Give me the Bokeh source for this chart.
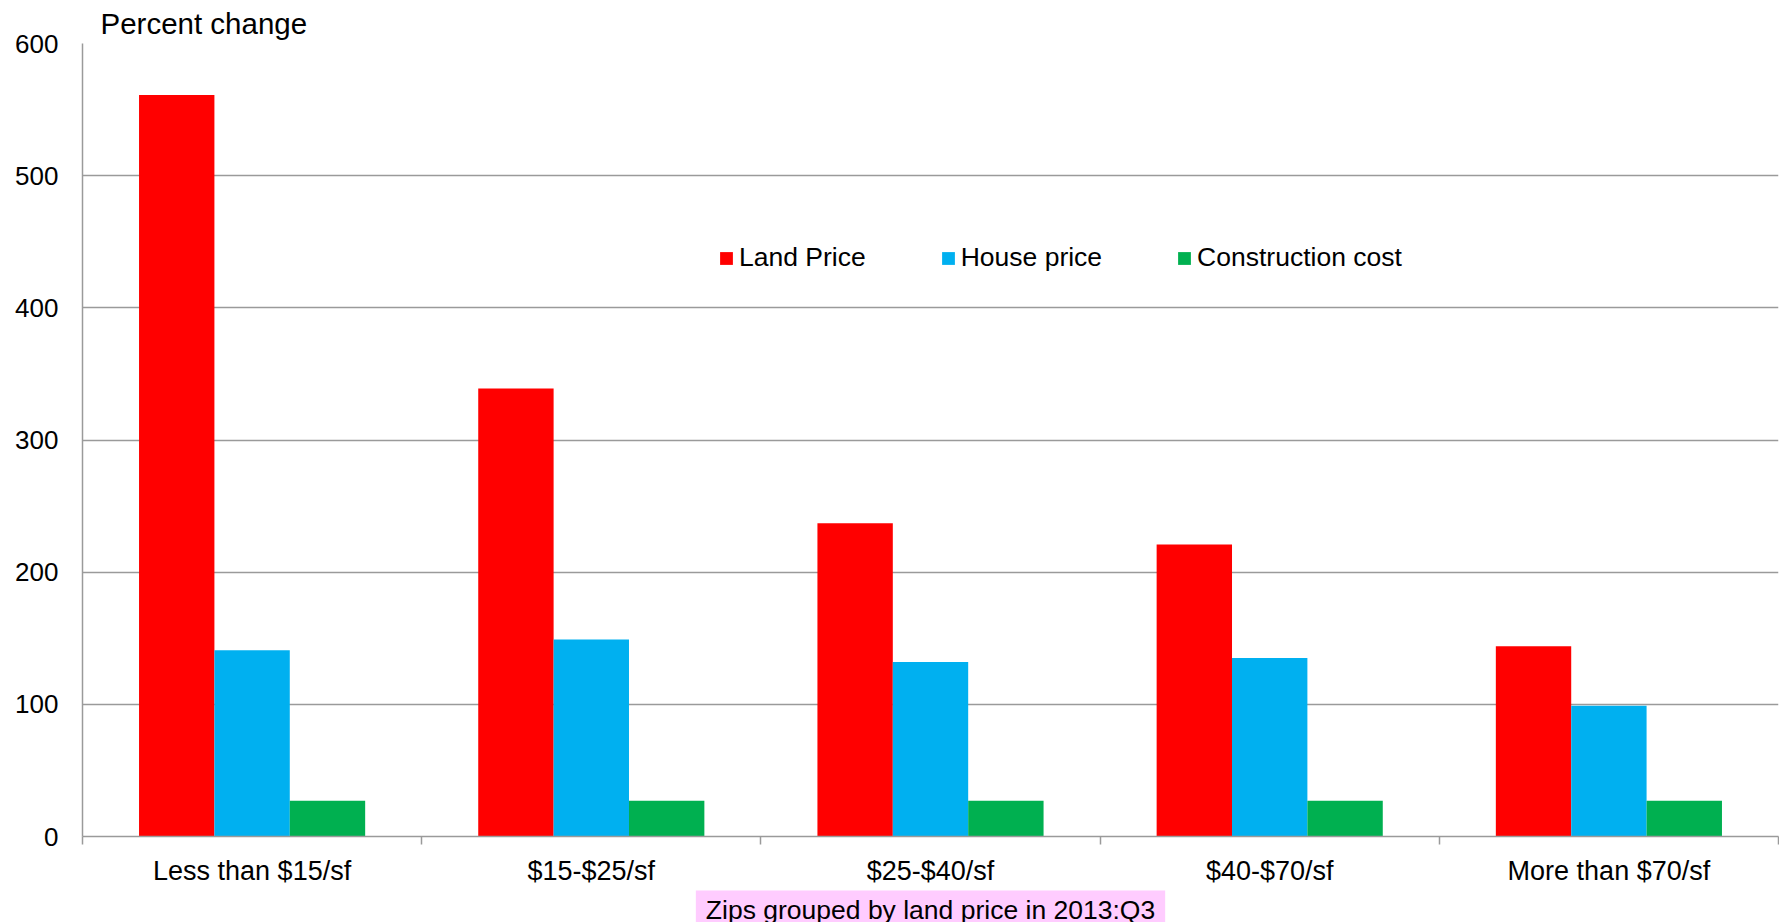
from bokeh.plotting import figure
from bokeh.models import Range1d, FixedTicker, Legend, LegendItem, Title
from bokeh.embed import file_html
from bokeh.resources import INLINE

categories = ["Less than $15/sf", "$15-$25/sf", "$25-$40/sf", "$40-$70/sf", "More than $70/sf"]
land_price = [561, 339, 237, 221, 144]
house_price = [141, 149, 132, 135, 99]
construction_cost = [27, 27, 27, 27, 27]
series_names = ["Land Price", "House price", "Construction cost"]
series_values = [land_price, house_price, construction_cost]
series_colors = ["#FF0000", "#00B0F0", "#00B050"]
y_ticks = [0, 100, 200, 300, 400, 500, 600]
y_label = "Percent change"
x_note = "Zips grouped by land price in 2013:Q3"

FONT = "Liberation Sans"
GRAY = "#9A9A9A"

n = len(categories)
p = figure(frame_width=1696, frame_height=793, output_backend="svg", toolbar_location=None,
           x_range=Range1d(0, n), y_range=Range1d(y_ticks[0], y_ticks[-1]),
           min_border_left=82, min_border_right=1, min_border_top=43, min_border_bottom=0)
p.outline_line_color = None
p.background_fill_color = "white"
p.border_fill_color = "white"

bw = 1.0 / (len(series_names) + 1.5)
renderers = []
for k, (name, vals, col) in enumerate(zip(series_names, series_values, series_colors)):
    off = (k - (len(series_names) - 1) / 2) * bw
    xs = [i + 0.5 + off for i in range(n)]
    r = p.vbar(x=xs, top=vals, bottom=0, width=bw, fill_color=col, line_color=None)
    renderers.append(r)

# axes
centers = [i + 0.5 for i in range(n)]
p.xaxis.ticker = FixedTicker(ticks=centers, minor_ticks=list(range(n + 1)))
p.xaxis.major_label_overrides = {c: lab for c, lab in zip(centers, categories)}
p.xaxis.major_tick_out = 0
p.xaxis.major_tick_in = 0
p.xaxis.minor_tick_out = 8
p.xaxis.minor_tick_in = 0
p.xaxis.minor_tick_line_color = GRAY
p.xaxis.minor_tick_line_width = 1.5
p.xaxis.axis_line_color = GRAY
p.xaxis.axis_line_width = 1.5
p.xaxis.major_label_standoff = 11
p.xaxis.major_label_text_font = FONT
p.xaxis.major_label_text_font_size = "27px"
p.xaxis.major_label_text_color = "black"

p.yaxis.ticker = FixedTicker(ticks=y_ticks, minor_ticks=[])
p.yaxis.major_tick_out = 0
p.yaxis.major_tick_in = 0
p.yaxis.minor_tick_out = 0
p.yaxis.minor_tick_in = 0
p.yaxis.axis_line_color = GRAY
p.yaxis.axis_line_width = 1.5
p.yaxis.major_label_standoff = 24
p.yaxis.major_label_text_font = FONT
p.yaxis.major_label_text_font_size = "26px"
p.yaxis.major_label_text_color = "black"

p.xgrid.visible = False
p.ygrid.ticker = FixedTicker(ticks=y_ticks)
p.ygrid.grid_line_color = GRAY
p.ygrid.grid_line_width = 1.5

# legend
legend = Legend(items=[LegendItem(label=nm, renderers=[r]) for nm, r in zip(series_names, renderers)],
                orientation="horizontal", location=(636, 563),
                glyph_width=16, glyph_height=16, label_standoff=5, spacing=74,
                padding=0, margin=0, border_line_color=None, background_fill_alpha=0,
                label_text_font=FONT, label_text_font_size="26.5px", label_text_color="black")
p.add_layout(legend, "center")

# y title (above plot, left aligned)
p.add_layout(Title(text=y_label, align="left", offset=18, standoff=7,
                   text_font=FONT, text_font_size="29.5px", text_color="black",
                   text_font_style="normal"), "above")

# note below x axis
p.add_layout(Title(text=x_note, align="center", standoff=0,
                   text_font=FONT, text_font_size="26.5px", text_color="black",
                   text_font_style="normal",
                   background_fill_color="#FFCCFF",
                   padding=dict(left=10, right=10, top=4, bottom=4)), "below")

open("out.html", "w").write(file_html(p, INLINE))
